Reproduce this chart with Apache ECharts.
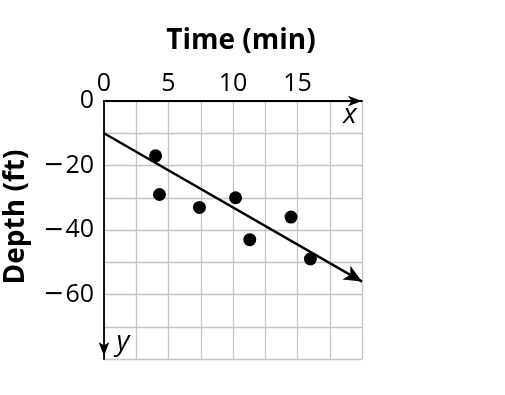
<!DOCTYPE html>
<html>
<head>
<meta charset="utf-8">
<script src="https://cdn.jsdelivr.net/npm/echarts@6/dist/echarts.min.js"></script>
<style>
html,body{margin:0;padding:0;background:#fff;}
#chart{width:505px;height:395px;}
</style>
</head>
<body>
<div id="chart"></div>
<script>
// Data
const timeMin = [4.0, 4.3, 7.4, 10.2, 11.3, 14.5, 16.0];
const depthFt = [-17, -29, -33, -30, -43, -36, -49];
const fitLineStart = [0, -10];
const fitLineEnd = [20, -56];
const xTickLabels = [0, 5, 10, 15];
const yTickLabels = [0, -20, -40, -60];

const points = timeMin.map((t, i) => [t, depthFt[i]]);
const fontFam = '"Open Sans", "Noto Sans", sans-serif';

const chart = echarts.init(document.getElementById('chart'));
chart.setOption({
  animation: false,
  backgroundColor: '#fff',
  grid: { left: 104, top: 101, width: 258, height: 258 },
  xAxis: {
    type: 'value', position: 'top', min: 0, max: 20, interval: 2.5,
    axisLine: { show: true, onZero: false, lineStyle: { color: '#000', width: 1.8 },
      symbol: ['none', 'arrow'], symbolSize: [8, 14], symbolOffset: [0, 0] },
    axisTick: { show: false },
    splitLine: { show: true, lineStyle: { color: '#c4c4c4', width: 1.3 } },
    axisLabel: {
      color: '#000', fontSize: 25, fontFamily: fontFam, margin: 5,
      formatter: v => xTickLabels.includes(v) ? String(v) : ''
    }
  },
  yAxis: {
    type: 'value', min: -80, max: 0, interval: 10,
    axisLine: { show: true, onZero: false, lineStyle: { color: '#000', width: 1.8 },
      symbol: ['arrow', 'none'], symbolSize: [8, 14], symbolOffset: [3, 0] },
    axisTick: { show: false },
    splitLine: { show: true, lineStyle: { color: '#c4c4c4', width: 1.3 } },
    axisLabel: {
      color: '#000', fontSize: 25, fontFamily: fontFam, margin: 10,
      formatter: v => yTickLabels.includes(v) ? (v < 0 ? '{m|\u2212}{d|' + Math.abs(v) + '}' : '{d|' + v + '}') : '',
      rich: {
        m: { fontSize: 25, fontFamily: '"DejaVu Sans", sans-serif', color: '#000', padding: [0, 1, 0, 0] },
        d: { fontSize: 25, fontFamily: fontFam, color: '#000' }
      }
    }
  },
  series: [{
    type: 'scatter',
    data: points,
    symbolSize: 13,
    itemStyle: { color: '#000', opacity: 1 },
    z: 5,
    markLine: {
      silent: true,
      symbol: ['none', 'arrow'],
      symbolSize: [12, 18],
      label: { show: false },
      lineStyle: { color: '#000', width: 2.4, type: 'solid' },
      data: [[{ coord: fitLineStart }, { coord: fitLineEnd }]]
    }
  }],
  graphic: [
    { type: 'text', x: 241, y: 41, style: { text: 'Time (min)', font: 'bold 28px ' + fontFam, fill: '#000', align: 'center', verticalAlign: 'middle' } },
    { type: 'text', x: 16, y: 217, rotation: Math.PI / 2, style: { text: 'Depth (ft)', font: 'bold 28px ' + fontFam, fill: '#000', align: 'center', verticalAlign: 'middle' } },
    { type: 'text', x: 350, y: 115, style: { text: 'x', font: 'italic 28px ' + fontFam, fill: '#000', align: 'center', verticalAlign: 'middle' } },
    { type: 'text', x: 123, y: 342, style: { text: 'y', font: 'italic 28px ' + fontFam, fill: '#000', align: 'center', verticalAlign: 'middle' } }
  ]
});
</script>
</body>
</html>
